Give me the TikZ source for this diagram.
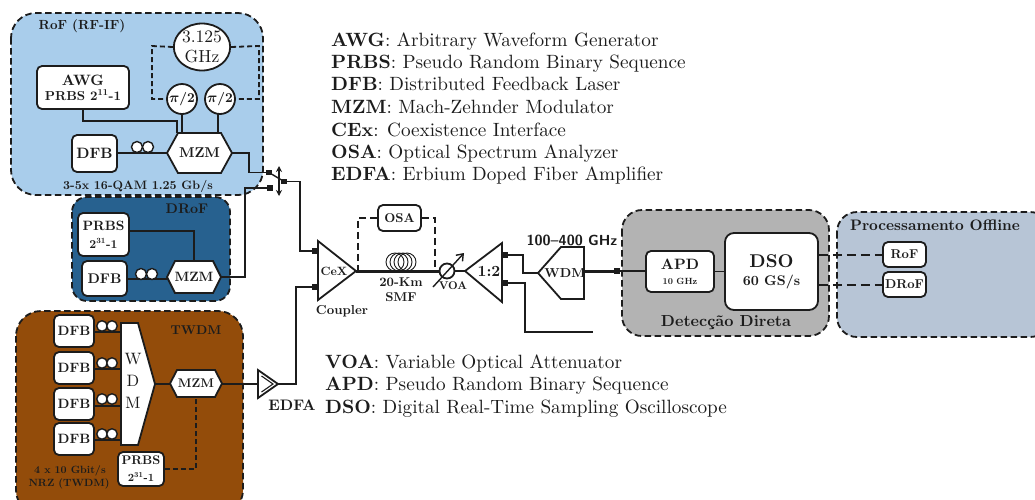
\documentclass[tikz,border=0pt]{standalone}
\usetikzlibrary{calc,arrows.meta,shapes.geometric}
\DeclareFontFamily{TU}{lmw}{}
\DeclareFontShape{TU}{lmw}{m}{n}{<-> "[lmroman10-regular.otf]:mapping=tex-text"}{}
\DeclareFontShape{TU}{lmw}{b}{n}{<-> "[lmroman10-bold.otf]:mapping=tex-text"}{}
\DeclareFontShape{TU}{lmw}{bx}{n}{<->ssub * lmw/b/n}{}
\renewcommand{\rmdefault}{lmw}
\renewcommand{\bfdefault}{b}
\definecolor{rofc}{HTML}{A9CDEB}
\definecolor{drofc}{HTML}{27618F}
\definecolor{twdmc}{HTML}{934C0A}
\definecolor{detc}{HTML}{B3B3B3}
\definecolor{procc}{HTML}{B7C5D6}
\definecolor{inkc}{HTML}{1C1C1C}
\tikzset{
  x=1pt,y=-1pt,
  every node/.style={text=inkc,inner sep=0pt,font=\bfseries},
  zone/.style={draw=inkc,line width=1.8pt,dash pattern=on 6.5pt off 3.5pt,rounded corners=#1},
  unit/.style={draw=inkc,fill=white,line width=1.8pt,rounded corners=5pt,align=center,inner sep=0pt},
  shapebox/.style={draw=inkc,fill=white,line width=1.8pt,line join=miter},
  conn/.style={draw=inkc,line width=1.8pt},
  thick conn/.style={draw=inkc,line width=3pt},
  dash conn/.style={draw=inkc,line width=1.8pt,dash pattern=on 5pt off 3pt},
  long dash conn/.style={draw=inkc,line width=2pt,dash pattern=on 9pt off 5pt},
  port/.style={fill=inkc,minimum size=5.5pt,shape=rectangle},
  legend/.style={anchor=base west,font=\mdseries\fontsize{19.2}{21}\selectfont},
  coilring/.style={draw=inkc,fill=white,line width=1.4pt},
  ringnode/.style={draw=inkc,fill=white,line width=1.8pt},
}
\newcommand{\fsz}[1]{\fontsize{#1}{#1}\selectfont}
\newcommand{\boxnode}[7][]{% opts name x y w h text
  \node[unit,minimum width=#5pt,minimum height=#6pt,#1] (#2) at (#3,#4) {#7};}
\newcommand{\hexnode}[7][\fsz{14}]{% font name xc yc w h inset
  \fill[white,draw=inkc,line width=1.8pt] (#3-#5/2,#4) -- (#3-#5/2+#7,#4-#6/2) -- (#3+#5/2-#7,#4-#6/2) -- (#3+#5/2,#4) -- (#3+#5/2-#7,#4+#6/2) -- (#3-#5/2+#7,#4+#6/2) -- cycle;
  \node[minimum width=#5pt,minimum height=#6pt,font=\bfseries#1] (#2) at (#3,#4) {MZM};}
\begin{document}
\begin{tikzpicture}
\useasboundingbox (0,0) rectangle (1035,499);
\clip (0,0) rectangle (1035,499);
% zones
\fill[white] (0,0) rectangle (1035,499);
\draw[zone=25pt,fill=rofc] (11,13) rectangle (263,195);
\draw[zone=15pt,fill=drofc] (72,197) rectangle (230,301);
\draw[zone=25pt,fill=twdmc] (16,311) rectangle (243,515);
\draw[zone=20pt,fill=detc] (622,210) rectangle (829,336);
\draw[zone=20pt,fill=procc] (837,212) rectangle (1050,337);
% zone titles
\node[font=\bfseries\fsz{13.2}] (tRoF) at (82,26.5) {RoF (RF-IF)};
\node[font=\bfseries\fsz{14}] (tDRoF) at (187,209) {DRoF};
\node[font=\bfseries\fsz{12.8}] (tTWDM) at (196,330) {TWDM};
\node[font=\bfseries\fsz{12.2}] (tRate) at (138,186) {3-5x 16-QAM 1.25 Gb/s};
\node[font=\bfseries\fsz{10.5}] (tRateB) at (70,471) {4 x 10 Gbit/s};
\node[font=\bfseries\fsz{10.5}] (tRateC) at (69,484) {NRZ (TWDM)};
\node[font=\bfseries\fsz{16}] (tDet) at (726,323) {Detecção Direta};
\node[font=\bfseries\fsz{15.2}] (tProc) at (935,225) {Processamento Offline};
% RoF
\boxnode{awg}{83}{87.5}{92}{43}{{\fsz{15}AWG}\\[3pt]{\fsz{13}PRBS 2\textsuperscript{11}-1}}
\node[ringnode,shape=ellipse,minimum width=56pt,minimum height=47pt,align=center,font=\mdseries\fsz{17.5}] (osc) at (202,47) {3.125\\[3pt]GHz};
\node[ringnode,shape=circle,minimum size=30pt,font=\bfseries\fsz{13.5}] (pa) at (182,99) {{\boldmath$\pi$}/2};
\node[ringnode,shape=circle,minimum size=30pt,font=\bfseries\fsz{13.5}] (pb) at (220,99) {{\boldmath$\pi$}/2};
\boxnode{dfbA}{94.5}{153.5}{45}{37}{\fsz{15}DFB}
\hexnode[\fsz{14.2}]{mzmA}{199.5}{153}{65}{40}{11}
\coordinate (awgKnee) at (83,121);
\coordinate (mzmIn) at (177,133);
\draw[conn] (awg.south -| awgKnee) -- (awgKnee) -| (mzmIn);
\draw[conn] (pa.south) -- (pa.south |- mzmA.north);
\draw[conn] (218,114) -- (218,133);
\draw[dash conn] (osc.west) -- (152,46) |- (pa.west);
\draw[dash conn] (osc.east) -- (259,46) |- (pb.east);
\draw[conn] (dfbA.east |- mzmA.west) -- (mzmA.west);
\foreach \nm/\cx in {a/137,b/148} \node[coilring,shape=circle,minimum size=11pt] (coilA\nm) at (\cx,147) {};
% DRoF
\boxnode{prbsA}{103.5}{234.5}{51}{43}{\fsz{13.5}PRBS\\[6pt]{\fsz{12}2\textsuperscript{31}-1}}
\boxnode{dfbB}{104.5}{278.5}{45}{35}{\fsz{14}DFB}
\hexnode[\fsz{13.5}]{mzmB}{194}{277}{54}{32}{8}
\draw[conn] (prbsA.east |- 0,231) -| (mzmB.north);
\draw[conn] (dfbB.east |- 0,279) -- (mzmB.west |- 0,279);
\foreach \nm/\cx in {a/141,b/152} \node[coilring,shape=circle,minimum size=11pt] (coilB\nm) at (\cx,274) {};
% TWDM
\foreach \nm/\cy/\h/\ly/\cly in {a/331/32/332/326,b/368/32/369/363,c/404/32/406/399,d/439/32/440/434}{
  \boxnode{dfbT\nm}{74}{\cy}{40}{\h}{\fsz{13.5}DFB}
  \draw[conn] (dfbT\nm.east |- 0,\ly) -- (121,\ly);
  \node[coilring,shape=circle,minimum size=10.5pt] (coilT\nm a) at (102,\cly) {};
  \node[coilring,shape=circle,minimum size=10.5pt] (coilT\nm b) at (112,\cly) {};
}
\draw[shapebox] (121,323) -- (138,323) -- (155,384) -- (138,445) -- (121,445) -- cycle;
\node[minimum width=34pt,minimum height=122pt] (wdmT) at (138,384) {};
\node[align=center,font=\mdseries\fontsize{16.5}{22}\selectfont] (wdmTtext) at (133,381) {W\\D\\M};
\hexnode[\fsz{12.5}]{mzmT}{196}{383.5}{52}{27}{7}
\draw[conn] (wdmT.east) -- (mzmT.west |- wdmT.east);
\boxnode{prbsT}{141}{469}{46}{34}{\fsz{12.5}PRBS\\[5pt]{\fsz{11}2\textsuperscript{31}-1}}
\draw[dash conn] (prbsT.east) -| (mzmT.south);
% EDFA
\draw[shapebox] (258,370) -- (278,384) -- (258,398) -- cycle;
\draw[draw=inkc,line width=1.1pt] (261.5,376) -- (273,384) -- (261.5,392);
\node[minimum width=20pt,minimum height=28pt] (edfa) at (268,384) {};
\node[font=\bfseries\fsz{15.2}] (edfaT) at (292,405) {EDFA};
\draw[conn] (mzmT.east |- edfa.west) -- (edfa.west);
% switch
\node[port] (swA) at (269,172.5) {};
\node[port] (swB) at (270,188) {};
\node[port] (swC) at (284,181.5) {};
\coordinate (swTop) at (279,166);
\coordinate (swBot) at (279,196);
\draw[conn,line width=1.4pt,{Stealth[length=6pt,width=6pt]}-{Stealth[length=6pt,width=6pt]}] (swTop) -- (swBot);
\draw[conn,line width=1.4pt] (swA) -- (swC);
\coordinate (kA) at (249,153);
\draw[conn] (mzmA.east) -- (kA) |- (swA);
\coordinate (kB) at (245,277);
\draw[conn] (mzmB.east) -- (kB) |- (swB);
% coupler
\draw[shapebox] (318,241) -- (356,271) -- (318,300) -- cycle;
\node[minimum width=38pt,minimum height=59pt] (cex) at (337,271) {};
\node[font=\bfseries\fsz{12}] (cexT) at (334,271) {CeX};
\node[font=\bfseries\fsz{13}] (coupT) at (342,311) {Coupler};
\node[port] (cA) at (315,251) {};
\node[port] (cB) at (315,287) {};
\coordinate (kC) at (300,181.5);
\draw[conn] (swC) -- (kC) |- (cA);
\coordinate (kD) at (296,384);
\draw[conn] (edfa.east |- kD) -- (kD) |- (cB);
% fibre
\foreach \cx in {395,399,403,407}
  \draw[draw=inkc,line width=.9pt] (\cx,262) ellipse [x radius=9,y radius=9];
\fill[white] (380,272) rectangle (425,280);
\boxnode{osa}{399.5}{218}{43}{26}{\fsz{12.8}OSA}
\node[ringnode,shape=circle,minimum size=15pt] (voa) at (447,271) {};
\draw[thick conn] (cex.east) -- (voa.west);
\coordinate (oL) at (358,271);
\coordinate (oR) at (435,271);
\draw[dash conn,line width=2pt,dash pattern=on 7pt off 4pt] (osa.west) -| (oL);
\draw[dash conn,line width=2pt,dash pattern=on 7pt off 4pt] (osa.east) -| (oR);
\coordinate (vLo) at (433,287);
\coordinate (vHi) at (464,253);
\draw[conn,line width=1.4pt,-{Straight Barb[length=6pt,width=9pt]}] (vLo) -- (vHi);
\node[font=\bfseries\fsz{11.2}] (voaT) at (453,286) {VOA};
\node[font=\bfseries\fsz{12.8}] (smfA) at (401,282) {20-Km};
\node[font=\bfseries\fsz{12.8}] (smfB) at (401,297) {SMF};
% splitter
\draw[shapebox] (465,271) -- (502,243) -- (502,302) -- cycle;
\node[minimum width=37pt,minimum height=59pt] (spl) at (483.5,271) {};
\node[font=\bfseries\fsz{15.5}] (splT) at (489,271) {1:2};
\draw[conn] (voa.east) -- (spl.west);
\node[port] (spA) at (505,255) {};
\node[port] (spB) at (505,283) {};
% WDM
\draw[shapebox] (538,273) -- (561,247) -- (584,247) -- (584,299) -- (561,299) -- cycle;
\node[minimum width=46pt,minimum height=52pt] (wdmR) at (561,273) {};
\node[font=\bfseries\fsz{13}] (wdmRT) at (565,273) {WDM};
\coordinate (kE) at (523,255);
\draw[conn] (spA) -- (kE) |- (wdmR.west);
\coordinate (kF) at (525,283);
\coordinate (fEnd) at (593,332);
\draw[conn] (spB) -- (kF) |- (fEnd);
\node[font=\sffamily\bfseries\fsz{14.6}] (grid) at (572,240) {100–400 GHz};
% detection
\node[port] (apdIn) at (617,271) {};
\draw[thick conn] (wdmR.east |- apdIn) -- (apdIn);
\boxnode{apd}{680}{271.5}{68}{41}{{\fsz{15}APD}\\[3pt]{\fsz{9}10 GHz}}
\boxnode[rounded corners=9pt]{dso}{771.5}{271.5}{93}{77}{{\fsz{18.5}DSO}\\[6pt]{\fsz{14}60 GS/s}}
\draw[conn] (apdIn) -- (apd.west |- apdIn);
\draw[conn] (apd.east) -- (dso.west);
\boxnode{rofOut}{904.5}{254.5}{43}{25}{\fsz{12.8}RoF}
\boxnode{drofOut}{904.5}{284.5}{43}{25}{\fsz{12.8}DRoF}
\draw[long dash conn] (dso.east |- rofOut) -- (rofOut.west);
\draw[long dash conn] (dso.east |- drofOut) -- (drofOut.west);
% legends
\foreach \nm/\ly/\ab/\ds in {
 la/46/AWG/Arbitrary Waveform Generator,
 lb/68/PRBS/Pseudo Random Binary Sequence,
 lc/90/DFB/Distributed Feedback Laser,
 ld/113/MZM/Mach-Zehnder Modulator,
 le/136/CEx/Coexistence Interface,
 lf/158/OSA/Optical Spectrum Analyzer,
 lg/180/EDFA/Erbium Doped Fiber Amplifier}
  \node[legend] (\nm) at (331,\ly) {\textbf{\ab}: \ds};
\foreach \nm/\ly/\ab/\ds in {
 lh/368/VOA/Variable Optical Attenuator,
 li/390/APD/Pseudo Random Binary Sequence,
 lj/413/DSO/Digital Real-Time Sampling Oscilloscope}
  \node[legend] (\nm) at (325,\ly) {\textbf{\ab}: \ds};
\end{tikzpicture}
\end{document}
